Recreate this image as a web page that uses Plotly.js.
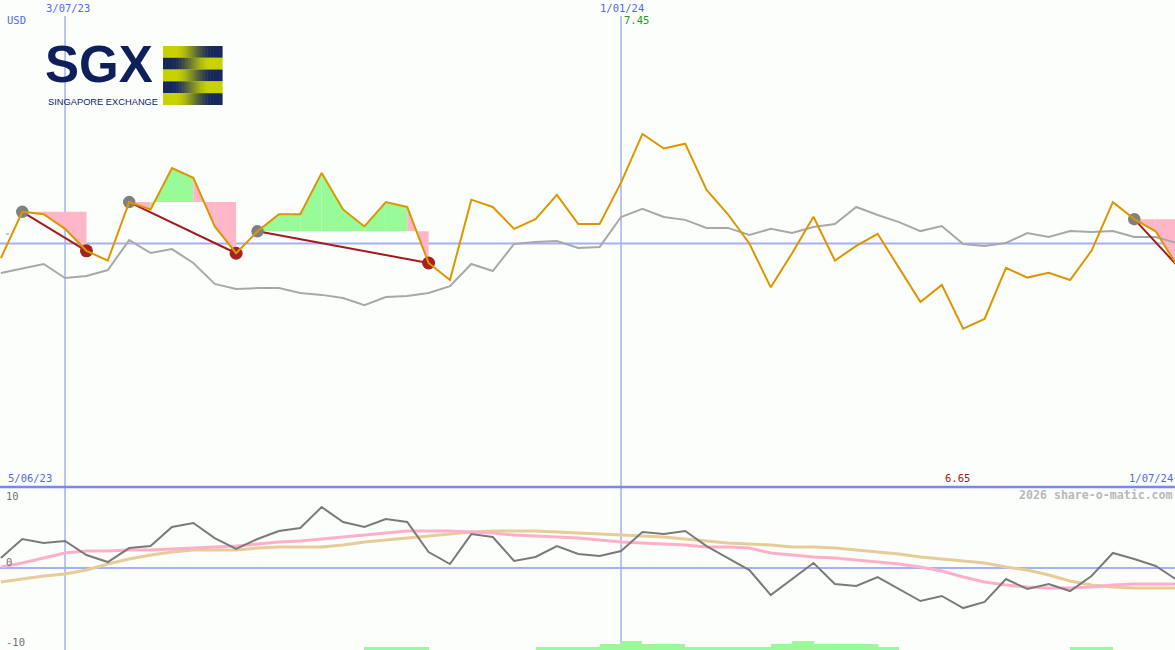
<!DOCTYPE html>
<html>
<head>
<meta charset="utf-8">
<script src="https://cdn.plot.ly/plotly-3.0.1.min.js"></script>
<style>
html,body{margin:0;padding:0;background:#fcfefc;}
#chart{width:1175px;height:650px;}
</style>
</head>
<body>
<div id="chart"></div>
<script>
// ---- data (weekly) ----
const dates = ['2023-06-12','2023-06-19','2023-06-26','2023-07-03','2023-07-10','2023-07-17','2023-07-24','2023-07-31',
'2023-08-07','2023-08-14','2023-08-21','2023-08-28','2023-09-04','2023-09-11','2023-09-18','2023-09-25',
'2023-10-02','2023-10-09','2023-10-16','2023-10-23','2023-10-30','2023-11-06','2023-11-13','2023-11-20','2023-11-27',
'2023-12-04','2023-12-11','2023-12-18','2023-12-25','2024-01-01','2024-01-08','2024-01-15','2024-01-22','2024-01-29',
'2024-02-05','2024-02-12','2024-02-19','2024-02-26','2024-03-04','2024-03-11','2024-03-18','2024-03-25',
'2024-04-01','2024-04-08','2024-04-15','2024-04-22','2024-04-29','2024-05-06','2024-05-13','2024-05-20','2024-05-27',
'2024-06-03','2024-06-10','2024-06-17','2024-06-24','2024-07-01'];

// share price (USD)
const closePrice = [6.94,7.13,7.12,7.06,6.97,6.93,7.17,7.14,7.31,7.27,7.07,6.96,7.05,7.12,7.12,7.29,7.14,7.07,7.17,7.15,
6.92,6.85,7.18,7.15,7.06,7.10,7.20,7.08,7.08,7.25,7.45,7.39,7.41,7.22,7.12,7.00,6.82,6.96,7.11,6.93,
6.99,7.04,6.90,6.76,6.83,6.65,6.69,6.90,6.86,6.88,6.85,6.97,7.17,7.10,7.05,6.91];

// comparison line (grey)
const compareLine = [6.879,6.899,6.916,6.858,6.867,6.891,7.014,6.961,6.977,6.920,6.834,6.813,6.817,6.817,6.797,6.789,
6.776,6.747,6.780,6.784,6.797,6.825,6.916,6.887,6.998,7.006,7.010,6.982,6.986,7.109,7.142,7.109,7.097,7.064,7.064,
7.035,7.060,7.043,7.068,7.080,7.150,7.117,7.088,7.051,7.072,6.998,6.990,7.002,7.043,7.027,7.051,7.047,7.051,7.027,7.027,7.002];

// lower panel
const oscLine = [1.35,3.92,3.38,3.65,1.76,0.81,2.70,2.97,5.54,6.08,4.05,2.57,3.92,5.00,5.41,8.24,6.22,5.54,6.62,6.22,
2.16,0.54,4.59,4.19,0.95,1.49,2.97,1.89,1.62,2.30,4.86,4.59,5.00,2.97,1.35,-0.27,-3.65,-1.49,0.68,-2.16,
-2.43,-1.22,-2.84,-4.46,-3.78,-5.41,-4.59,-1.49,-2.84,-2.16,-3.11,-1.08,2.03,1.22,0.27,-1.62];
const signalLine = [0.14,0.68,1.35,2.03,2.30,2.30,2.43,2.43,2.57,2.70,2.84,2.97,3.24,3.51,3.65,3.92,4.19,4.46,4.73,5.00,
5.00,5.00,4.86,4.73,4.46,4.32,4.19,4.05,3.78,3.51,3.38,3.24,3.11,2.84,2.84,2.70,2.03,1.76,1.49,1.35,
1.08,0.81,0.54,0.14,-0.41,-1.22,-1.89,-2.30,-2.57,-2.70,-2.70,-2.57,-2.30,-2.16,-2.16,-2.16];
const slowLine = [-1.89,-1.49,-1.08,-0.81,-0.27,0.54,1.22,1.76,2.16,2.43,2.43,2.43,2.70,2.84,2.84,2.84,3.11,3.51,3.78,4.05,
4.32,4.59,4.86,5.00,5.00,5.00,4.86,4.73,4.59,4.46,4.32,4.19,3.92,3.65,3.38,3.24,3.11,2.84,2.84,2.70,
2.43,2.16,1.89,1.49,1.22,0.95,0.68,0.14,-0.27,-0.95,-1.76,-2.30,-2.57,-2.70,-2.70,-2.70];
const volBars = [0,0,0,0,0,0,0,0,0,0, 0,0,0,0,0,0,0,1,1,1, 0,0,0,0,0,1,1,1,2,3,
2,2,1,1,1,1,2,3,2,2, 2,1,0,0,0,0,0,0,0,0, 1,1,0,0,0,0];

// trades
const tradeEntry = ['2023-06-19','2023-07-24','2023-09-04','2024-06-17'];
const tradeExit  = ['2023-07-10','2023-08-28','2023-10-30','2024-07-01'];
const exitMarked = [true,true,true,false];

// labels
const currencyLabel = 'USD';
const topDateLabels = [['2023-07-03','3/07/23'],['2024-01-01','1/01/24']];
const highLabel = '7.45', lowLabel = '6.65';
const startLabel = '5/06/23', endLabel = '1/07/24';
const lowerTicks = [['10',496],['0',562],['-10',642]];

// ---- build ----
const W = 1175, H = 650;
const px = x => x / W, py = y => (H - y) / H;
const split = 163 / 650;
const GREEN = '#98fb98', PINK = '#ffb6c8';

const traces = [];

// fills between price and entry level
tradeEntry.forEach((ed, t) => {
  const a = dates.indexOf(ed), b = dates.indexOf(tradeExit[t]);
  const L = closePrice[a];
  for (let i = a; i < b; i++) {
    const col = closePrice[i + 1] >= L ? GREEN : PINK;
    traces.push({x:[dates[i],dates[i],dates[i+1],dates[i+1]], y:[L,closePrice[i],closePrice[i+1],L],
      type:'scatter', mode:'none', fill:'toself', fillcolor:col, hoverinfo:'skip', xaxis:'x', yaxis:'y'});
  }
});

// comparison line
traces.push({x:dates, y:compareLine, type:'scatter', mode:'lines', line:{color:'#a8a8a8', width:2}, hoverinfo:'skip'});

// trade lines
tradeEntry.forEach((ed, t) => {
  const a = dates.indexOf(ed), b = dates.indexOf(tradeExit[t]);
  traces.push({x:[dates[a],dates[b]], y:[closePrice[a],closePrice[b]], type:'scatter', mode:'lines',
    line:{color:'#a01c1c', width:2}, hoverinfo:'skip'});
});
// dots
traces.push({x:tradeEntry, y:tradeEntry.map(d=>closePrice[dates.indexOf(d)]), type:'scatter', mode:'markers',
  marker:{color:'#808080', size:12.5}, hoverinfo:'skip'});
const ex = tradeExit.filter((d,i)=>exitMarked[i]);
traces.push({x:ex, y:ex.map(d=>closePrice[dates.indexOf(d)]), type:'scatter', mode:'markers',
  marker:{color:'#a82020', size:13}, hoverinfo:'skip'});

// price line
traces.push({x:dates, y:closePrice, type:'scatter', mode:'lines', line:{color:'#dc9600', width:2}, hoverinfo:'skip'});

// lower panel
traces.push({x:dates, y:volBars, type:'bar', yaxis:'y3', marker:{color:GREEN, line:{width:0}},
  width:7*86400000, offset:0, hoverinfo:'skip'});
traces.push({x:dates, y:slowLine, type:'scatter', mode:'lines', yaxis:'y2', line:{color:'#e6cc98', width:3}, hoverinfo:'skip'});
traces.push({x:dates, y:signalLine, type:'scatter', mode:'lines', yaxis:'y2', line:{color:'#ffb0c8', width:3}, hoverinfo:'skip'});
traces.push({x:dates, y:oscLine, type:'scatter', mode:'lines', yaxis:'y2', line:{color:'#7a7a7a', width:2}, hoverinfo:'skip'});

const BLUE_L = '#a4b0f4';
const shapes = [
  {type:'line', xref:'paper', yref:'y', x0:0, x1:1, y0:7, y1:7, line:{color:BLUE_L, width:2}, layer:'below'},
  {type:'line', xref:'paper', yref:'y2', x0:0, x1:1, y0:0, y1:0, line:{color:BLUE_L, width:2}, layer:'below'},
  {type:'line', xref:'paper', yref:'paper', x0:0, x1:1, y0:split, y1:split, line:{color:'#7888ec', width:2.5}, layer:'above'},
  {type:'line', xref:'paper', yref:'paper', x0:px(6), x1:px(9), y0:py(234), y1:py(234), line:{color:'#7888ec', width:1}}
];
topDateLabels.forEach(([d]) => shapes.push({type:'line', xref:'x', yref:'paper', x0:d, x1:d, y0:0, y1:py(16),
  line:{color:BLUE_L, width:1.5}, layer:'below'}));

// SGX stripes (gradient built from thin rects)
const yel = [200,210,0], nav = [22,40,94];
const sx0 = 163, sx1 = 222, sy0 = 46, sy1 = 105, nCols = 40;
for (let r = 0; r < 5; r++) {
  const ya = sy0 + (sy1 - sy0) * r / 5, yb = sy0 + (sy1 - sy0) * (r + 1) / 5;
  for (let c = 0; c < nCols; c++) {
    let t = (c + 0.5) / nCols;
    if (r % 2 === 1) t = 1 - t;
    let s = Math.min(1, Math.max(0, (t - 0.2) / 0.65));
    s = s * s * (3 - 2 * s);
    const col = yel.map((v, k) => Math.round(v + (nav[k] - v) * s));
    const xa = sx0 + (sx1 - sx0) * c / nCols, xb = sx0 + (sx1 - sx0) * (c + 1) / nCols + 0.6;
    shapes.push({type:'rect', xref:'paper', yref:'paper', x0:px(xa), x1:px(xb), y0:py(yb), y1:py(ya),
      fillcolor:`rgb(${col.join(',')})`, line:{width:0}, layer:'above'});
  }
}

const mono = 'DejaVu Sans Mono, monospace';
const BLUE_T = '#5566ee';
const ann = (text, x, y, xa, color, size, extra) => Object.assign({text, x:px(x), y:py(y), xref:'paper', yref:'paper',
  xanchor:xa, yanchor:'middle', showarrow:false, font:{family:mono, size:size||10.5, color}}, extra||{});
const annotations = [
  ann(currencyLabel, 5, 20, 'left', BLUE_T),
  ann(topDateLabels[0][1], 68, 8, 'center', BLUE_T),
  ann(topDateLabels[1][1], 622, 8, 'center', BLUE_T),
  ann(highLabel, 622, 20, 'left', '#229922'),
  ann(startLabel, 6, 478, 'left', BLUE_T),
  ann(lowLabel, 943, 478, 'left', '#a01818'),
  ann(endLabel, 1175, 478, 'right', BLUE_T),
  ann('<b>2026 share-o-matic.com</b>', 1175, 495, 'right', '#b8b8b8', 11.6),
  ...lowerTicks.map(([t,y]) => ann(t, 4, y, 'left', '#707070')),
  {text:'<b>SGX</b>', x:px(43), y:py(64), xref:'paper', yref:'paper', xanchor:'left', yanchor:'middle', showarrow:false,
    font:{family:'Liberation Sans, Arial, sans-serif', size:51, color:'#0f1f5c'}},
  {text:'SINGAPORE EXCHANGE', x:px(46), y:py(101.5), xref:'paper', yref:'paper', xanchor:'left', yanchor:'middle', showarrow:false,
    font:{family:'Liberation Sans, Arial, sans-serif', size:9.3, color:'#0f1f5c'}}
];

const layout = {
  width:W, height:H, margin:{l:0,r:0,t:0,b:0,pad:0},
  paper_bgcolor:'#fcfefc', plot_bgcolor:'#fcfefc', showlegend:false, hovermode:false, bargap:0,
  xaxis:{type:'date', range:['2023-06-11 17:00','2024-06-30 08:00'], visible:false, fixedrange:true},
  yaxis:{domain:[split,1], range:[6,8], visible:false, fixedrange:true},
  yaxis2:{domain:[0,split], range:[-11.08,10.95], visible:false, fixedrange:true},
  yaxis3:{overlaying:'y2', range:[0,54], visible:false, fixedrange:true},
  shapes, annotations
};
Plotly.newPlot('chart', traces, layout, {staticPlot:true, displayModeBar:false});
</script>
</body>
</html>
